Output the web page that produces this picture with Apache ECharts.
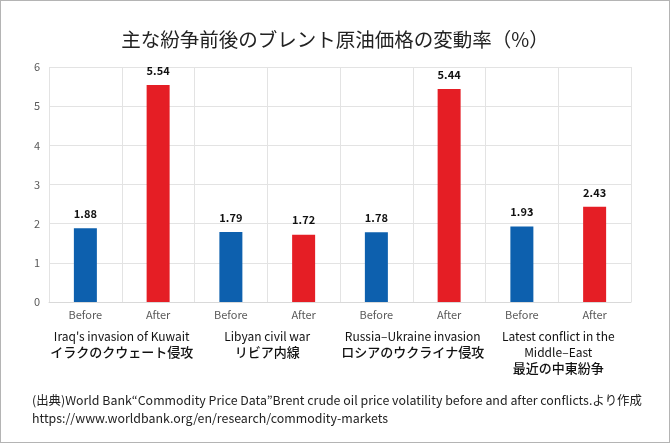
<!DOCTYPE html>
<html>
<head>
<meta charset="utf-8" />
<script src="https://cdn.jsdelivr.net/npm/echarts@6/dist/echarts.min.js"></script>
<style>
html, body { margin: 0; padding: 0; background: #fff; }
#frame { position: absolute; left: 0; top: 0; width: 668px; height: 441px; border: 1px solid #b4b4b4; }
#chart { position: absolute; left: 0; top: 0; width: 670px; height: 443px; }
</style>
</head>
<body>
<div id="frame"></div>
<div id="chart"></div>
<script>
var categories = ["Before", "After", "Before", "After", "Before", "After", "Before", "After"];
var values = [1.88, 5.54, 1.79, 1.72, 1.78, 5.44, 1.93, 2.43];
var groupsEn = ["Iraq's invasion of Kuwait", "Libyan civil war", "Russia\u2013Ukraine invasion", "Latest conflict in the\nMiddle\u2013East"];
var groupsJa = ["イラクのクウェート侵攻", "リビア内線", "ロシアのウクライナ侵攻", "最近の中東紛争"];
var colorBefore = "#0d60ae";
var colorAfter = "#e51e25";

var font = "'Noto Sans CJK JP', 'Noto Sans', sans-serif";
var chart = echarts.init(document.getElementById("chart"));

var barData = [];
for (var i = 0; i < values.length; i++) {
	barData.push({
		value: values[i],
		itemStyle: { color: i % 2 == 0 ? colorBefore : colorAfter }
	});
}

// group label: english lines normal, japanese line a bit heavier
var groups = [];
for (var i = 0; i < groupsEn.length; i++) {
	var en = groupsEn[i].split("\n").map(function (s) { return "{en|" + s + "}"; }).join("\n");
	groups.push(en + "\n{ja|" + groupsJa[i] + "}");
}

var option = {
	animation: false,
	textStyle: { fontFamily: font },
	title: [{
		text: "主な紛争前後のブレント原油価格の変動率（%）",
		left: "center",
		top: 25,
		textStyle: { fontSize: 19.5, fontWeight: "normal", color: "#222", fontFamily: font }
	}, {
		text: "(出典)World Bank“Commodity Price Data”Brent crude oil price volatility before and after conflicts.より作成\nhttps://www.worldbank.org/en/research/commodity-markets",
		left: 27,
		top: 386,
		textStyle: { fontSize: 12.4, fontWeight: "normal", color: "#222", lineHeight: 18, fontFamily: font }
	}],
	grid: { left: 49, right: 39, top: 67, bottom: 141 },
	xAxis: [{
		type: "category",
		data: categories,
		axisLine: { lineStyle: { color: "#d9d9d9" } },
		axisTick: { show: false },
		splitLine: { show: true, lineStyle: { color: "#e3e3e3" } },
		axisLabel: { color: "#595959", fontSize: 11, margin: 7, fontFamily: font }
	}, {
		type: "category",
		data: groups,
		position: "bottom",
		offset: 18,
		axisLine: { show: false },
		axisTick: { show: false },
		axisLabel: {
			interval: 0,
			color: "#111",
			fontFamily: font,
			rich: {
				en: { fontSize: 12, lineHeight: 16, color: "#111", fontFamily: font },
				ja: { fontSize: 13, lineHeight: 17, fontWeight: 500, color: "#111", fontFamily: font }
			}
		}
	}],
	yAxis: {
		type: "value",
		min: 0,
		max: 6,
		interval: 1,
		axisLine: { show: false },
		axisTick: { show: false },
		splitLine: { lineStyle: { color: "#e3e3e3" } },
		axisLabel: { color: "#595959", fontSize: 11, margin: 9, fontFamily: font }
	},
	series: [{
		type: "bar",
		xAxisIndex: 0,
		data: barData,
		barWidth: 23,
		label: {
			show: true,
			position: "top",
			distance: 9,
			color: "#111",
			fontSize: 11,
			fontWeight: "bold",
			fontFamily: font,
			formatter: function (p) { return p.value.toFixed(2); }
		}
	}, {
		type: "bar",
		xAxisIndex: 1,
		data: []
	}]
};
chart.setOption(option);
</script>
</body>
</html>
